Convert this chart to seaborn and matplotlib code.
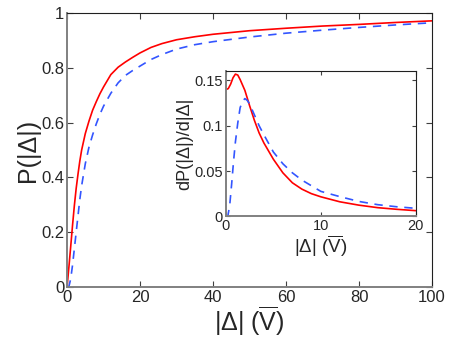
import matplotlib
matplotlib.use("Agg")
import matplotlib.pyplot as plt
import pandas as pd
import seaborn as sns

# cumulative distribution, main panel
x_main = [0, 0.5, 1, 1.5, 2, 2.5, 3, 3.5, 4, 5, 6, 7, 8, 9, 10, 12, 14, 16, 18,
          20, 23, 26, 30, 35, 40, 50, 60, 70, 80, 90, 100]
p_red = [0, 0.072, 0.148, 0.225, 0.297, 0.36, 0.412, 0.46, 0.50, 0.56, 0.605,
         0.645, 0.676, 0.705, 0.73, 0.775, 0.802, 0.821, 0.838, 0.854, 0.874,
         0.888, 0.902, 0.913, 0.922, 0.935, 0.944, 0.952, 0.958, 0.965, 0.971]
p_blue = [0, 0.002, 0.03, 0.08, 0.14, 0.2, 0.26, 0.32, 0.37, 0.45, 0.51, 0.555,
          0.595, 0.63, 0.66, 0.707, 0.745, 0.772, 0.79, 0.806, 0.83, 0.848,
          0.868, 0.884, 0.895, 0.912, 0.926, 0.937, 0.947, 0.956, 0.964]

# density, inset
x_in_red = [0, 0.25, 0.5, 0.75, 1, 1.25, 1.5, 2, 2.5, 3, 3.5, 4, 5, 6, 7, 8, 9,
            10, 12, 14, 16, 18, 20]
d_red = [0.140, 0.141, 0.146, 0.153, 0.157, 0.156, 0.151, 0.139, 0.122, 0.106,
         0.092, 0.081, 0.063, 0.048, 0.037, 0.030, 0.025, 0.0215, 0.016, 0.0123,
         0.0095, 0.0077, 0.0062]
x_in_blue = [0, 0.2, 0.4, 0.6, 0.8, 1, 1.25, 1.5, 1.75, 2, 2.25, 2.5, 3, 3.5, 4,
             5, 6, 7, 8, 10, 12, 14, 16, 18, 20]
d_blue = [0, 0, 0.012, 0.035, 0.060, 0.082, 0.103, 0.120, 0.127, 0.130, 0.128,
          0.124, 0.112, 0.100, 0.090, 0.071, 0.058, 0.048, 0.040, 0.0275, 0.0217,
          0.0164, 0.0128, 0.0105, 0.0088]

sns.set_style("ticks")
plt.rcParams["font.family"] = ["Liberation Sans", "DejaVu Sans"]
plt.rcParams["mathtext.fontset"] = "custom"
plt.rcParams["mathtext.rm"] = "Liberation Sans"
plt.rcParams["mathtext.it"] = "Liberation Sans"
plt.rcParams["mathtext.bf"] = "Liberation Sans"

RED = "#ff0000"
BLUE = "#3355ff"
xlab = r"$|\Delta|\ (\overline{\mathrm{V}})$"


def style_axes(ax, size):
    for side in ["left", "bottom"]:
        ax.spines[side].set_color("#808080")
        ax.spines[side].set_linewidth(1.4)
    for side in ["top", "right"]:
        ax.spines[side].set_color("#202020")
        ax.spines[side].set_linewidth(0.8)
    ax.tick_params(direction="in", top=True, right=True, length=4,
                   width=0.8, color="#404040", labelsize=size, pad=2)


fig = plt.figure(figsize=(4.5, 3.39), dpi=100)
ax = fig.add_axes([0.149, 0.153, 0.811, 0.809])

main_red = pd.DataFrame({"x": x_main, "p": p_red})
main_blue = pd.DataFrame({"x": x_main, "p": p_blue})
sns.lineplot(data=main_red, x="x", y="p", color=RED, linewidth=1.2, ax=ax)
sns.lineplot(data=main_blue, x="x", y="p", color=BLUE, linewidth=1.2,
             linestyle=(0, (5, 4)), ax=ax)
ax.set_xlim(0, 100)
ax.set_ylim(0, 1)
ax.set_xticks([0, 20, 40, 60, 80, 100])
ax.set_yticks([0, 0.2, 0.4, 0.6, 0.8, 1])
ax.set_yticklabels(["0", "0.2", "0.4", "0.6", "0.8", "1"])
ax.set_xlabel(xlab, fontsize=18, labelpad=0)
ax.set_ylabel("P(|Δ|)", fontsize=18, labelpad=1)
style_axes(ax, 12)

ins = fig.add_axes([0.502, 0.362, 0.422, 0.430])
in_red = pd.DataFrame({"x": x_in_red, "d": d_red})
in_blue = pd.DataFrame({"x": x_in_blue, "d": d_blue})
sns.lineplot(data=in_red, x="x", y="d", color=RED, linewidth=1.2, ax=ins)
sns.lineplot(data=in_blue, x="x", y="d", color=BLUE, linewidth=1.2,
             linestyle=(0, (5, 4)), ax=ins)
ins.set_xlim(0, 20)
ins.set_ylim(0, 0.161)
ins.set_xticks([0, 10, 20])
ins.set_yticks([0, 0.05, 0.1, 0.15])
ins.set_yticklabels(["0", "0.05", "0.1", "0.15"])
ins.set_xlabel(xlab, fontsize=13.5, labelpad=0)
ins.set_ylabel("dP(|Δ|)/d|Δ|", fontsize=13, labelpad=1)
style_axes(ins, 10.5)
ins.tick_params(length=3)

fig.savefig("out.png", dpi=100)
